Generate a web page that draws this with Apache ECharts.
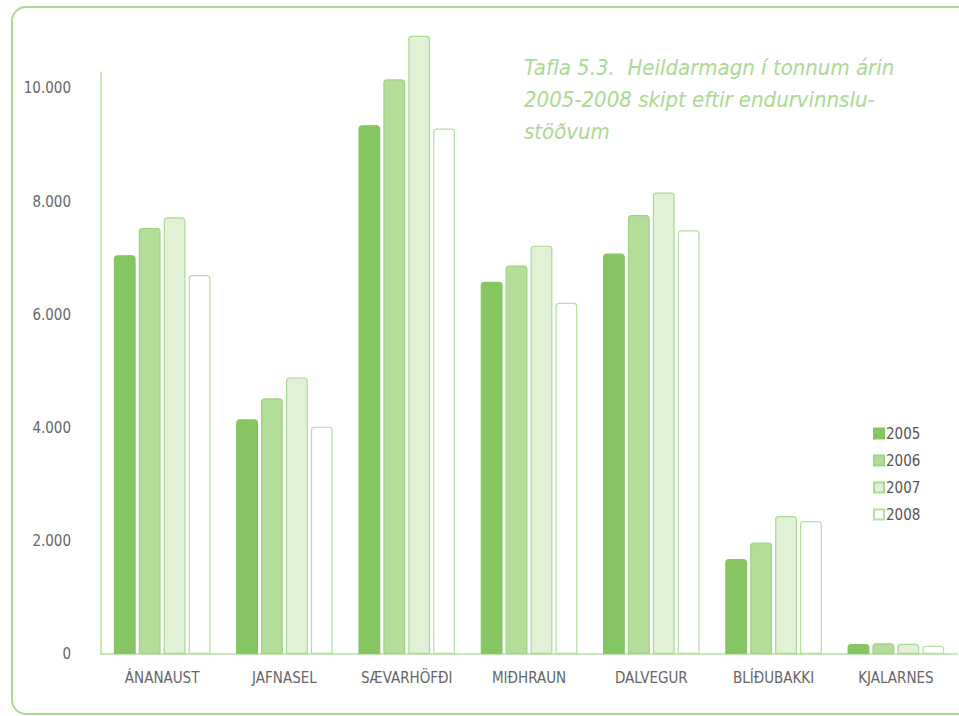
<!DOCTYPE html>
<html>
<head>
<meta charset="utf-8">
<script src="https://cdn.jsdelivr.net/npm/echarts@6/dist/echarts.min.js"></script>
<style>
html,body{margin:0;padding:0;background:#fff;}
#c{width:959px;height:716px;}
</style>
</head>
<body>
<div id="c"></div>
<script>
var categories = ['ÁNANAUST','JAFNASEL','SÆVARHÖFÐI','MIÐHRAUN','DALVEGUR','BLÍÐUBAKKI','KJALARNES'];
var years = ['2005','2006','2007','2008'];
var v2005 = [7050, 4150, 9350, 6580, 7080, 1680, 175];
var v2006 = [7530, 4520, 10160, 6870, 7760, 1970, 190];
var v2007 = [7720, 4890, 10930, 7220, 8160, 2440, 180];
var v2008 = [6700, 4020, 9290, 6210, 7490, 2350, 145];
var yTicks = [0, 2000, 4000, 6000, 8000, 10000];
var titleText = 'Tafla 5.3.  Heildarmagn í tonnum árin\n2005-2008 skipt eftir endurvinnslu-\nstöðvum';

var seriesValues = [v2005, v2006, v2007, v2008];
var fills = ['#86c662', '#b3dd98', '#e0f1d6', '#ffffff'];
var borders = ['#86c662', '#9fd386', '#a9da93', '#b3df9f'];
var FONT = "'Liberation Sans Narrow','DejaVu Sans Condensed','Roboto Condensed','Liberation Sans',sans-serif";

function fmt(v){
  return String(v).replace(/\B(?=(\d{3})+(?!\d))/g, '.');
}

var chart = echarts.init(document.getElementById('c'), null, {renderer:'svg'});
chart.setOption({
  backgroundColor: '#ffffff',
  animation: false,
  title: {
    text: titleText,
    left: 519,
    top: 46,
    textStyle: {
      fontFamily: FONT,
      fontStyle: 'italic',
      fontWeight: 'normal',
      fontSize: 22,
      lineHeight: 32,
      color: '#a9d992'
    }
  },
  graphic: [{
    type: 'rect',
    shape: {x: 12, y: 7, width: 1000, height: 707, r: 14},
    style: {fill: 'none', stroke: '#a9da92', lineWidth: 2},
    silent: true,
    z: -1
  }],
  legend: {
    orient: 'vertical',
    left: 868,
    top: 421,
    itemWidth: 10,
    itemHeight: 10,
    itemGap: 12,
    icon: 'rect',
    textStyle: {fontFamily: FONT, fontSize: 15, color: '#555', padding: [0,0,0,-3]},
    data: years
  },
  grid: {left: 101, right: 2, top: 72, bottom: 62, containLabel: false},
  xAxis: {
    type: 'category',
    data: categories,
    axisLine: {lineStyle: {color: '#b6e0a3', width: 1.5}},
    axisTick: {show: false},
    axisLabel: {fontFamily: FONT, fontSize: 15, color: '#666', margin: 16}
  },
  yAxis: {
    type: 'value',
    min: 0,
    max: 10290,
    interval: 2000,
    axisLine: {show: true, lineStyle: {color: '#b6e0a3', width: 1.5}},
    axisTick: {show: false},
    splitLine: {show: false},
    axisLabel: {
      fontFamily: FONT, fontSize: 15, color: '#666', margin: 30,
      showMaxLabel: false,
      formatter: function(v){ return yTicks.indexOf(v) >= 0 ? fmt(v) : ''; }
    }
  },
  series: years.map(function(y, i){
    return {
      name: y,
      type: 'bar',
      data: seriesValues[i],
      clip: false,
      barGap: '14%',
      barCategoryGap: '21%',
      itemStyle: {
        color: fills[i],
        borderColor: borders[i],
        borderWidth: 1.2,
        borderRadius: [3,3,0,0]
      }
    };
  })
});
</script>
</body>
</html>
